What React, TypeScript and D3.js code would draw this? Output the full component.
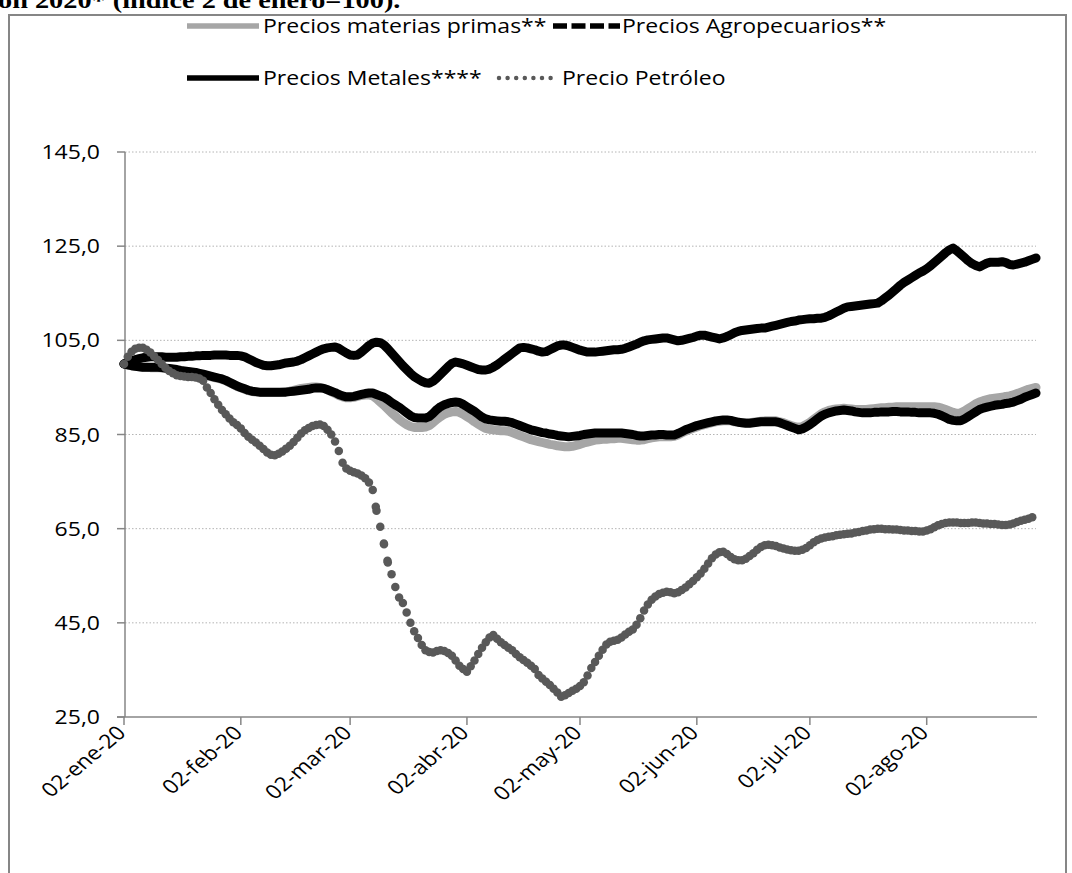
import React from "react";
import * as d3 from "d3";

// Daily observations, 2 Jan 2020 to 31 Aug 2020 (index 2 Jan = 100)
const FIRST_DAY = new Date(2020, 0, 2);
const LAST_DAY = new Date(2020, 7, 31);
const days: Date[] = d3.timeDay.range(FIRST_DAY, d3.timeDay.offset(LAST_DAY, 1));

const monthTickDates = [
  new Date(2020, 0, 2), new Date(2020, 1, 2), new Date(2020, 2, 2), new Date(2020, 3, 2),
  new Date(2020, 4, 2), new Date(2020, 5, 2), new Date(2020, 6, 2), new Date(2020, 7, 2),
];
const monthTickLabels = [
  "02-ene-20", "02-feb-20", "02-mar-20", "02-abr-20",
  "02-may-20", "02-jun-20", "02-jul-20", "02-ago-20",
];
const valueTicks = [25, 45, 65, 85, 105, 125, 145];

const seriesNames = [
  "Precios materias primas**",
  "Precios Agropecuarios**",
  "Precios Metales****",
  "Precio Petróleo",
];

const materiasPrimas = [
  // ene
  100.0, 99.8, 99.6, 99.5, 99.4, 99.3, 99.3, 99.2, 99.2, 99.2, 99.1, 99.0, 98.9, 98.8, 98.7,
  98.5, 98.4, 98.3, 98.2, 98.1, 97.9, 97.7, 97.5, 97.3, 97.1, 96.9, 96.7, 96.4, 96.0, 95.6,
  // feb
  95.2, 94.9, 94.6, 94.3, 94.1, 94.0, 93.9, 93.9, 93.9, 93.9, 93.9, 93.9, 94.0, 94.1, 94.2,
  94.4, 94.6, 94.8, 94.9, 95.0, 95.1, 95.1, 95.0, 94.8, 94.5, 94.1, 93.7, 93.3, 93.0,
  // mar
  92.8, 92.8, 92.9, 93.1, 93.3, 93.4, 93.4, 93.2, 92.6, 91.9, 91.2, 90.4, 89.6, 88.9, 88.2,
  87.6, 87.1, 86.7, 86.5, 86.5, 86.5, 86.6, 86.9, 87.5, 88.2, 88.8, 89.3, 89.6, 89.8, 89.9, 89.7,
  // abr
  89.3, 88.8, 88.3, 87.7, 87.2, 86.7, 86.3, 86.1, 86.0, 85.9, 85.8, 85.8, 85.7, 85.4, 85.1,
  84.8, 84.5, 84.2, 83.9, 83.7, 83.5, 83.3, 83.1, 82.9, 82.8, 82.6, 82.5, 82.4, 82.4, 82.5,
  // may
  82.7, 82.9, 83.2, 83.4, 83.6, 83.8, 83.9, 84.0, 84.0, 84.1, 84.1, 84.2, 84.2, 84.1, 84.0,
  83.9, 83.8, 83.8, 83.9, 84.1, 84.3, 84.4, 84.5, 84.5, 84.5, 84.5, 84.6, 84.9, 85.3, 85.7, 86.0,
  // jun
  86.3, 86.6, 86.9, 87.1, 87.3, 87.5, 87.7, 87.8, 87.9, 87.9, 87.9, 87.7, 87.6, 87.5, 87.5,
  87.5, 87.6, 87.7, 87.8, 87.9, 87.9, 87.9, 87.9, 87.7, 87.5, 87.2, 86.9, 86.7, 86.5, 86.7,
  // jul
  87.1, 87.6, 88.2, 88.8, 89.4, 89.8, 90.1, 90.3, 90.4, 90.5, 90.6, 90.5, 90.4, 90.3, 90.3,
  90.3, 90.3, 90.4, 90.5, 90.6, 90.7, 90.7, 90.8, 90.8, 90.9, 90.9, 90.9, 90.9, 90.9, 90.9, 90.9,
  // ago
  90.9, 90.9, 90.9, 90.9, 90.8, 90.6, 90.3, 90.0, 89.7, 89.5, 89.6, 90.0, 90.5, 91.0, 91.5,
  91.9, 92.2, 92.4, 92.6, 92.7, 92.8, 92.9, 93.1, 93.2, 93.4, 93.7, 94.0, 94.3, 94.6, 94.8, 95.0,
];

const agropecuarios = [
  // ene
  100.0, 99.8, 99.6, 99.5, 99.4, 99.3, 99.3, 99.3, 99.3, 99.3, 99.2, 99.1, 99.0, 98.9, 98.8,
  98.6, 98.5, 98.4, 98.3, 98.2, 98.0, 97.8, 97.6, 97.4, 97.2, 97.0, 96.8, 96.5, 96.1, 95.7,
  // feb
  95.3, 95.0, 94.7, 94.4, 94.2, 94.1, 94.0, 94.0, 94.0, 94.0, 94.0, 94.0, 94.0, 94.0, 94.1,
  94.2, 94.3, 94.4, 94.5, 94.6, 94.8, 94.9, 94.9, 94.8, 94.5, 94.2, 93.9, 93.5, 93.2,
  // mar
  93.0, 93.0, 93.1, 93.3, 93.5, 93.7, 93.8, 93.8, 93.5, 93.2, 92.9, 92.4, 91.8, 91.3, 90.8,
  90.2, 89.6, 89.0, 88.6, 88.5, 88.5, 88.5, 88.8, 89.5, 90.3, 90.9, 91.3, 91.6, 91.8, 91.9, 91.8,
  // abr
  91.4, 90.9, 90.4, 89.9, 89.3, 88.7, 88.3, 88.1, 88.0, 87.9, 87.8, 87.8, 87.7, 87.5, 87.2,
  86.9, 86.6, 86.3, 86.0, 85.8, 85.6, 85.4, 85.3, 85.1, 85.0, 84.8, 84.7, 84.6, 84.5, 84.6,
  // may
  84.7, 84.8, 85.0, 85.1, 85.2, 85.3, 85.3, 85.3, 85.3, 85.3, 85.3, 85.3, 85.3, 85.2, 85.1,
  85.0, 84.8, 84.7, 84.7, 84.8, 84.9, 84.9, 85.0, 85.0, 84.9, 84.9, 84.9, 85.2, 85.6, 86.0, 86.3,
  // jun
  86.6, 86.9, 87.1, 87.3, 87.5, 87.7, 87.9, 88.0, 88.1, 88.1, 88.0, 87.8, 87.6, 87.5, 87.4,
  87.4, 87.5, 87.6, 87.7, 87.7, 87.7, 87.7, 87.7, 87.5, 87.2, 86.9, 86.6, 86.3, 86.0, 86.2,
  // jul
  86.6, 87.1, 87.7, 88.3, 88.9, 89.3, 89.6, 89.8, 90.0, 90.1, 90.2, 90.1, 90.0, 89.8, 89.7,
  89.6, 89.6, 89.6, 89.7, 89.7, 89.8, 89.8, 89.8, 89.9, 89.9, 89.8, 89.8, 89.8, 89.7, 89.7, 89.6,
  // ago
  89.6, 89.6, 89.6, 89.5, 89.3, 89.0, 88.6, 88.2, 88.0, 87.9, 87.9, 88.3, 88.8, 89.3, 89.8,
  90.3, 90.6, 90.8, 91.0, 91.2, 91.3, 91.4, 91.6, 91.7, 91.9, 92.2, 92.5, 92.9, 93.2, 93.5, 93.8,
];

const metales = [
  // ene
  100.0, 100.3, 100.6, 100.9, 101.1, 101.3, 101.4, 101.5, 101.5, 101.5, 101.5, 101.4, 101.4, 101.4, 101.4,
  101.5, 101.5, 101.6, 101.6, 101.7, 101.7, 101.8, 101.8, 101.8, 101.9, 101.9, 101.9, 101.9, 101.8, 101.8,
  // feb
  101.8, 101.7, 101.5, 101.1, 100.7, 100.3, 100.0, 99.7, 99.6, 99.6, 99.7, 99.8, 100.0, 100.2, 100.3,
  100.4, 100.6, 100.9, 101.3, 101.7, 102.1, 102.5, 102.9, 103.2, 103.4, 103.5, 103.6, 103.3, 102.8,
  // mar
  102.3, 101.9, 101.8, 101.9, 102.5, 103.2, 103.9, 104.4, 104.6, 104.5, 104.0, 103.2, 102.3, 101.4, 100.5,
  99.6, 98.8, 98.0, 97.3, 96.8, 96.3, 96.0, 95.9, 96.3, 97.0, 97.8, 98.6, 99.4, 100.1, 100.4, 100.2,
  // abr
  100.0, 99.7, 99.4, 99.1, 98.8, 98.7, 98.7, 98.9, 99.3, 99.8, 100.4, 101.0, 101.6, 102.2, 102.8,
  103.4, 103.5, 103.4, 103.2, 103.0, 102.7, 102.5, 102.6, 103.0, 103.4, 103.8, 104.0, 104.0, 103.8, 103.5,
  // may
  103.2, 102.9, 102.7, 102.5, 102.5, 102.5, 102.6, 102.7, 102.8, 102.9, 103.0, 103.0, 103.1, 103.3, 103.6,
  103.9, 104.2, 104.6, 104.9, 105.1, 105.2, 105.3, 105.4, 105.5, 105.5, 105.3, 105.1, 104.9, 105.0, 105.2, 105.4,
  // jun
  105.6, 105.9, 106.1, 106.1, 105.9, 105.7, 105.5, 105.3, 105.5, 105.8, 106.2, 106.6, 106.9, 107.1, 107.2,
  107.3, 107.4, 107.5, 107.6, 107.6, 107.8, 108.0, 108.2, 108.4, 108.6, 108.8, 109.0, 109.1, 109.3, 109.4,
  // jul
  109.5, 109.6, 109.6, 109.7, 109.7, 109.9, 110.2, 110.6, 111.0, 111.4, 111.8, 112.1, 112.2, 112.3, 112.4,
  112.5, 112.6, 112.7, 112.8, 112.9, 113.4, 114.0, 114.6, 115.3, 116.0, 116.7, 117.3, 117.8, 118.3, 118.8, 119.3,
  // ago
  119.7, 120.2, 120.8, 121.5, 122.2, 122.9, 123.6, 124.2, 124.6, 124.0, 123.3, 122.6, 121.9, 121.3, 120.9,
  120.6, 121.0, 121.4, 121.6, 121.6, 121.6, 121.7, 121.5, 121.1, 121.0, 121.2, 121.4, 121.6, 121.9, 122.2, 122.5,
];

const petroleo = [
  // ene
  100.0, 101.5, 102.6, 103.2, 103.4, 103.4, 103.0, 102.4, 101.6, 100.8, 100.0, 99.2, 98.5, 98.0, 97.6,
  97.4, 97.3, 97.2, 97.2, 97.1, 96.9, 96.4, 95.0, 93.8, 92.5, 91.3, 90.2, 89.3, 88.4, 87.6,
  // feb
  87.0, 86.3, 85.3, 84.5, 83.9, 83.3, 82.6, 81.9, 81.2, 80.7, 80.6, 80.9, 81.4, 82.0, 82.6,
  83.4, 84.3, 85.2, 85.9, 86.4, 86.8, 87.0, 87.1, 86.8, 86.0, 85.0, 83.5, 81.5, 79.0,
  // mar
  77.8, 77.3, 77.0, 76.7, 76.3, 75.7, 74.8, 73.2, 68.8, 65.4, 61.7, 57.8, 55.3, 52.6, 50.4,
  49.2, 47.2, 45.0, 43.2, 41.8, 40.3, 39.2, 38.8, 38.7, 39.0, 39.2, 39.0, 38.6, 38.0, 37.0, 35.9,
  // abr
  35.2, 34.6, 35.8, 37.0, 38.4, 39.7, 40.9, 41.9, 42.4, 41.6, 40.9, 40.3, 39.7, 39.2, 38.4,
  37.7, 37.1, 36.5, 35.9, 35.2, 33.9, 33.2, 32.5, 31.8, 31.0, 30.2, 29.3, 29.6, 30.1, 30.6,
  // may
  31.0, 31.6, 32.4, 33.8, 35.4, 36.7, 38.0, 39.3, 40.4, 41.0, 41.2, 41.4, 41.9, 42.5, 43.1,
  43.6, 44.6, 46.0, 47.6, 48.9, 49.9, 50.6, 51.1, 51.4, 51.6, 51.5, 51.3, 51.5, 52.0, 52.5, 53.2,
  // jun
  53.9, 54.7, 55.5, 56.5, 57.6, 58.7, 59.5, 60.0, 60.1, 59.6, 59.0, 58.5, 58.3, 58.3, 58.6,
  59.2, 59.8, 60.5, 61.1, 61.5, 61.6, 61.5, 61.3, 61.0, 60.8, 60.6, 60.4, 60.3, 60.3, 60.5,
  // jul
  60.9, 61.5, 62.1, 62.6, 62.9, 63.1, 63.3, 63.4, 63.6, 63.7, 63.8, 63.9, 64.0, 64.2, 64.3,
  64.5, 64.6, 64.8, 64.9, 65.0, 65.0, 64.9, 64.9, 64.8, 64.8, 64.7, 64.6, 64.6, 64.5, 64.5, 64.4,
  // ago
  64.4, 64.6, 64.9, 65.3, 65.7, 66.0, 66.2, 66.3, 66.3, 66.3, 66.2, 66.2, 66.2, 66.3, 66.3,
  66.2, 66.1, 66.1, 66.0, 66.0, 65.9, 65.8, 65.8, 65.9, 66.1, 66.4, 66.7, 66.9, 67.1, 67.4, 67.6,
];

const W = 1072;
const H = 873;
const FONT = "'Open Sans', 'Noto Sans', sans-serif";
const FS = 19.5;
const SX = 1.18; // horizontal stretch applied to all text

const COLORS = {
  materias: "#a6a6a6",
  agro: "#000000",
  metales: "#000000",
  petroleo: "#595959",
  axis: "#868686",
  grid: "#b4b4b4",
};

export default function App() {
  const x = d3.scaleTime().domain([FIRST_DAY, LAST_DAY]).range([124, 1036]);
  const y = d3.scaleLinear().domain([25, 145]).range([717, 152]);
  const [x0, x1] = x.range();
  const [yBottom, yTop] = y.range();

  const lineOf = (vals: number[]) =>
    d3
      .line<number>()
      .x((_, i) => x(days[i]))
      .y((v) => y(v))(vals.slice(0, days.length)) || "";

  const fmt = (v: number) => d3.format(".1f")(v).replace(".", ",");

  // dotted series: pattern restarts on every daily segment
  const oilPts = petroleo.slice(0, days.length).map((v, i) => [x(days[i]), y(v)] as [number, number]);
  const oilSegs = d3.pairs(oilPts);

  const legendRow1 = 26;
  const legendRow2 = 78;

  return (
    <svg
      width={W}
      height={H}
      style={{ position: "absolute", left: 0, top: 0 }}
      fontFamily={FONT}
      fontSize={FS}
    >
      <rect width={W} height={H} fill="#ffffff" />

      {/* heading line cut by the page edge */}
      <text
        transform={`translate(-2,8) scale(${SX},1)`}
        fontFamily="'Liberation Serif', 'DejaVu Serif', serif"
        fontWeight="bold"
        fontSize={24}
        fill="#000"
      >
        ón 2020* (índice 2 de enero=100).
      </text>

      {/* chart frame */}
      <rect x={9} y={15} width={1057} height={H} fill="none" stroke={COLORS.axis} strokeWidth={2} />

      {/* gridlines */}
      {valueTicks
        .filter((v) => v !== 25)
        .map((v) => (
          <line
            key={`g${v}`}
            x1={x0 + 1}
            x2={x1}
            y1={y(v)}
            y2={y(v)}
            stroke={COLORS.grid}
            strokeWidth={1}
            strokeDasharray="1.5 2"
          />
        ))}

      {/* y axis */}
      <line x1={x0 + 1} x2={x0 + 1} y1={yTop} y2={yBottom} stroke={COLORS.axis} strokeWidth={1.5} />
      {valueTicks.map((v) => (
        <g key={`yt${v}`}>
          <line x1={x0 - 7} x2={x0 + 1} y1={y(v)} y2={y(v)} stroke={COLORS.axis} strokeWidth={1.5} />
          <text
            transform={`translate(100,${y(v) + 7}) scale(${SX},1)`}
            textAnchor="end"
            fill="#000"
          >
            {fmt(v)}
          </text>
        </g>
      ))}

      {/* x axis */}
      <line x1={x0 - 7} x2={x1 + 1} y1={yBottom} y2={yBottom} stroke={COLORS.axis} strokeWidth={1.5} />
      {monthTickDates.map((d, i) => (
        <g key={`xt${i}`}>
          <line x1={x(d)} x2={x(d)} y1={yBottom} y2={yBottom + 8} stroke={COLORS.axis} strokeWidth={1.5} />
          <text
            transform={`translate(${x(d) + 3},734) scale(${SX},1) rotate(-45)`}
            textAnchor="end"
            fill="#000"
          >
            {monthTickLabels[i]}
          </text>
        </g>
      ))}

      {/* series */}
      <path d={lineOf(materiasPrimas)} fill="none" stroke={COLORS.materias} strokeWidth={9} strokeLinejoin="round" strokeLinecap="round" />
      <path d={lineOf(agropecuarios)} fill="none" stroke={COLORS.agro} strokeWidth={9} strokeLinejoin="round" strokeLinecap="round" />
      <path d={lineOf(metales)} fill="none" stroke={COLORS.metales} strokeWidth={9} strokeLinejoin="round" strokeLinecap="round" />
      <g stroke={COLORS.petroleo} strokeWidth={8.5} strokeLinecap="round" strokeDasharray="0 17" fill="none">
        {oilSegs.map(([a, b], i) => (
          <line key={`o${i}`} x1={a[0]} y1={a[1]} x2={b[0]} y2={b[1]} />
        ))}
      </g>

      {/* legend */}
      <line x1={187} x2={259} y1={legendRow1} y2={legendRow1} stroke={COLORS.materias} strokeWidth={5.5} />
      <text transform={`translate(263,${legendRow1 + 7}) scale(${SX},1)`} fill="#000">{seriesNames[0]}</text>
      <line x1={553} x2={620} y1={legendRow1} y2={legendRow1} stroke={COLORS.agro} strokeWidth={5.5} strokeDasharray="14 4.5" />
      <text transform={`translate(622,${legendRow1 + 7}) scale(${SX},1)`} fill="#000">{seriesNames[1]}</text>
      <line x1={187} x2={259} y1={legendRow2} y2={legendRow2} stroke={COLORS.metales} strokeWidth={5.5} />
      <text transform={`translate(263,${legendRow2 + 7}) scale(${SX},1)`} fill="#000">{seriesNames[2]}</text>
      <line x1={499} x2={557} y1={legendRow2} y2={legendRow2} stroke={COLORS.petroleo} strokeWidth={4.5} strokeLinecap="round" strokeDasharray="0 8.6" />
      <text transform={`translate(562,${legendRow2 + 7}) scale(${SX},1)`} fill="#000">{seriesNames[3]}</text>
    </svg>
  );
}
